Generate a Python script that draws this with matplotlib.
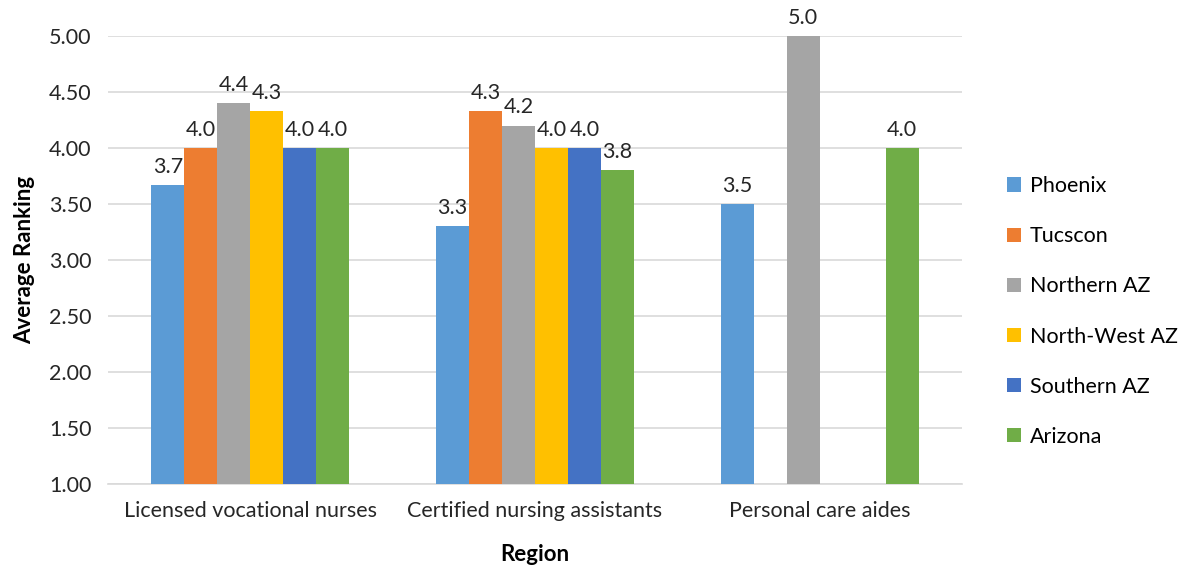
import numpy as np
import matplotlib.pyplot as plt

plt.rcParams['font.family'] = ['Lato', 'DejaVu Sans']

categories = ['Licensed vocational nurses', 'Certified nursing assistants', 'Personal care aides']
regions = ['Phoenix', 'Tucscon', 'Northern AZ', 'North-West AZ', 'Southern AZ', 'Arizona']
phoenix = [3.67, 3.30, 3.50]
tucson = [4.00, 4.33, np.nan]
northern = [4.40, 4.20, 5.00]
northwest = [4.33, 4.00, np.nan]
southern = [4.00, 4.00, np.nan]
arizona = [4.00, 3.80, 4.00]
colors = ['#5B9BD5', '#ED7D31', '#A5A5A5', '#FFC000', '#4472C4', '#70AD47']

series = [phoenix, tucson, northern, northwest, southern, arizona]

fig = plt.figure(figsize=(11.84, 5.67), dpi=100)
ax = fig.add_axes([108 / 1184, 1 - 484 / 567, 854 / 1184, 448 / 567])

x = np.arange(len(categories))
w = 0.116
for i, (vals, name, c) in enumerate(zip(series, regions, colors)):
    pos = x + (i - 2.5) * w
    ax.bar(pos, vals, w, color=c, label=name, zorder=3)
    for p, v in zip(pos, vals):
        if not np.isnan(v):
            ax.annotate(f'{v:.1f}', (p, v), xytext=(0, 6), textcoords='offset points',
                        ha='center', va='bottom', fontsize=15.5, color='#262626')

ax.set_xlim(-0.5, 2.5)
ax.set_ylim(1, 5)
ax.set_yticks(np.arange(1, 5.01, 0.5))
ax.set_yticklabels([f'{t:.2f}' for t in np.arange(1, 5.01, 0.5)])
ax.set_xticks(x)
ax.set_xticklabels(categories)
ax.tick_params(length=0, labelsize=15.5, colors='#262626')
ax.tick_params(axis='x', pad=12)
ax.tick_params(axis='y', pad=12)
ax.grid(axis='y', color='#D9D9D9', linewidth=1.2, zorder=0)
for s in ['top', 'right', 'left']:
    ax.spines[s].set_visible(False)
ax.spines['bottom'].set_color('#D9D9D9')
ax.spines['bottom'].set_linewidth(1.2)

ax.set_ylabel('Average Ranking', fontsize=16, fontweight='bold', labelpad=10)
ax.set_xlabel('Region', fontsize=16, fontweight='bold', labelpad=17)

ax.legend(loc='center left', bbox_to_anchor=(1.03, 0.385), frameon=False, fontsize=15.5,
          handlelength=0.65, handleheight=0.65, handletextpad=0.4, labelspacing=1.4)

fig.savefig('out.png', dpi=100)
